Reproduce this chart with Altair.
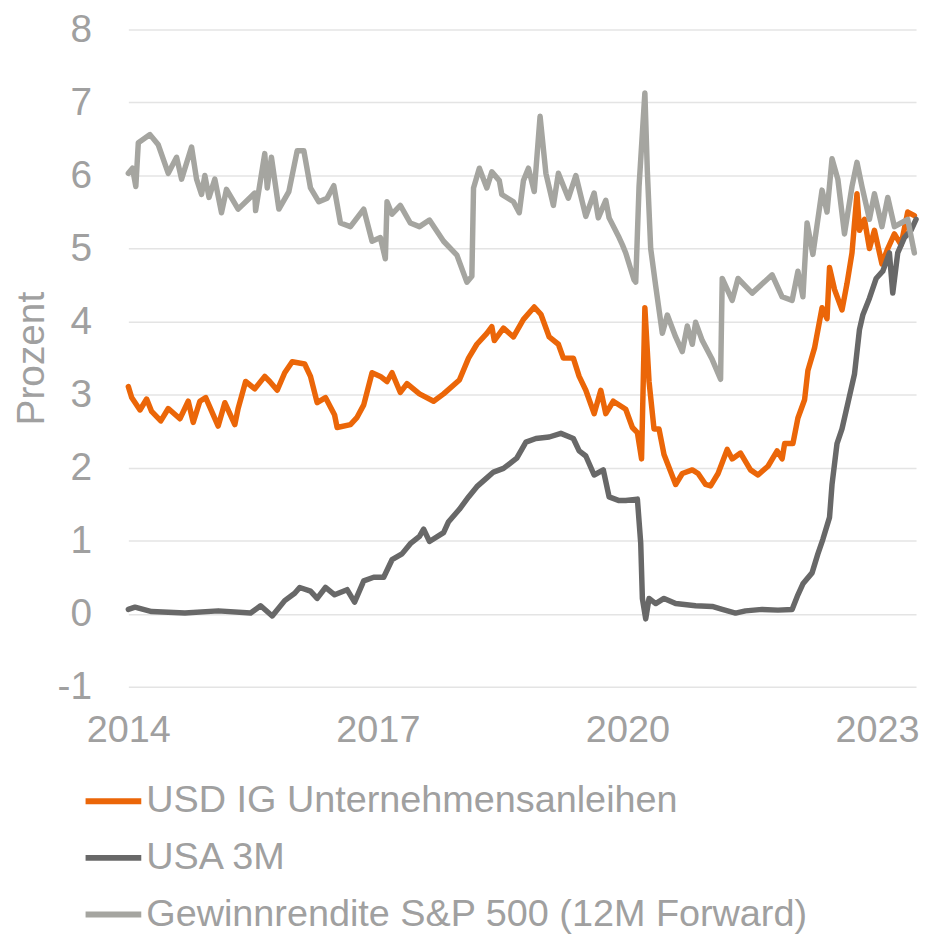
import altair as alt
import pandas as pd

# Series names (legend order)
S_IG = "USD IG Unternehmensanleihen"
S_3M = "USA 3M"
S_EY = "Gewinnrendite S&P 500 (12M Forward)"

ig_years = [2014.00, 2014.04, 2014.14, 2014.22, 2014.28, 2014.39, 2014.48, 2014.62, 2014.72, 2014.78,
            2014.86, 2014.93, 2015.08, 2015.16, 2015.28, 2015.32, 2015.41, 2015.52, 2015.64, 2015.70,
            2015.79, 2015.88, 2015.97, 2016.12, 2016.19, 2016.27, 2016.37, 2016.48, 2016.51, 2016.67,
            2016.75, 2016.83, 2016.93, 2017.03, 2017.11, 2017.17, 2017.27, 2017.35, 2017.50, 2017.67,
            2017.79, 2017.98, 2018.09, 2018.19, 2018.31, 2018.37, 2018.40, 2018.51, 2018.63, 2018.75,
            2018.88, 2018.96, 2019.06, 2019.17, 2019.23, 2019.35, 2019.42, 2019.50, 2019.60, 2019.68,
            2019.74, 2019.83, 2019.98, 2020.06, 2020.12, 2020.17, 2020.21, 2020.26, 2020.32, 2020.38,
            2020.44, 2020.58, 2020.66, 2020.78, 2020.85, 2020.94, 2021.00, 2021.09, 2021.20, 2021.26,
            2021.36, 2021.48, 2021.57, 2021.69, 2021.80, 2021.86, 2021.89, 2021.99, 2022.05, 2022.13,
            2022.17, 2022.25, 2022.34, 2022.40, 2022.43, 2022.49, 2022.58, 2022.64, 2022.70, 2022.76,
            2022.79, 2022.85, 2022.91, 2022.97, 2023.06, 2023.13, 2023.21, 2023.29, 2023.37, 2023.45]
ig_vals = [3.11, 2.96, 2.79, 2.94, 2.77, 2.64, 2.81, 2.67, 2.91, 2.62,
           2.91, 2.96, 2.57, 2.89, 2.59, 2.81, 3.18, 3.08, 3.25, 3.18,
           3.06, 3.30, 3.45, 3.42, 3.25, 2.89, 2.96, 2.72, 2.55, 2.59,
           2.69, 2.86, 3.30, 3.25, 3.18, 3.30, 3.03, 3.15, 3.01, 2.91,
           3.01, 3.20, 3.50, 3.69, 3.84, 3.93, 3.74, 3.91, 3.79, 4.03,
           4.20, 4.10, 3.79, 3.69, 3.50, 3.50, 3.25, 3.06, 2.74, 3.06,
           2.74, 2.91, 2.80, 2.55, 2.48, 2.12, 4.19, 3.18, 2.53, 2.53,
           2.18, 1.77, 1.92, 1.97, 1.92, 1.77, 1.75, 1.92, 2.25, 2.12,
           2.20, 1.97, 1.90, 2.02, 2.23, 2.12, 2.33, 2.33, 2.68, 2.93,
           3.33, 3.64, 4.19, 4.04, 4.74, 4.44, 4.16, 4.52, 4.94, 5.75,
           5.25, 5.40, 5.00, 5.25, 4.79, 5.00, 5.20, 5.05, 5.50, 5.45]

m3_years = [2014.00, 2014.08, 2014.28, 2014.68, 2015.08, 2015.47, 2015.59, 2015.73, 2015.88, 2016.00,
            2016.06, 2016.19, 2016.27, 2016.37, 2016.48, 2016.63, 2016.72, 2016.83, 2016.95, 2017.07,
            2017.17, 2017.29, 2017.39, 2017.50, 2017.55, 2017.62, 2017.79, 2017.85, 2017.98, 2018.09,
            2018.19, 2018.31, 2018.39, 2018.51, 2018.67, 2018.78, 2018.90, 2019.06, 2019.20, 2019.35,
            2019.42, 2019.50, 2019.60, 2019.71, 2019.78, 2019.90, 2019.98, 2020.12, 2020.16, 2020.18,
            2020.22, 2020.26, 2020.34, 2020.44, 2020.58, 2020.82, 2021.02, 2021.14, 2021.30, 2021.42,
            2021.62, 2021.81, 2021.98, 2022.05, 2022.11, 2022.22, 2022.29, 2022.35, 2022.43, 2022.46,
            2022.52, 2022.58, 2022.65, 2022.73, 2022.79, 2022.83, 2022.91, 2022.99, 2023.07, 2023.15,
            2023.19, 2023.25, 2023.33, 2023.41, 2023.47]
m3_vals = [0.06, 0.09, 0.03, 0.01, 0.04, 0.01, 0.11, -0.03, 0.18, 0.28,
           0.36, 0.31, 0.21, 0.36, 0.26, 0.33, 0.16, 0.45, 0.50, 0.50,
           0.74, 0.82, 0.96, 1.06, 1.16, 0.99, 1.11, 1.26, 1.43, 1.60,
           1.74, 1.86, 1.94, 1.99, 2.13, 2.35, 2.40, 2.42, 2.47, 2.40,
           2.23, 2.16, 1.90, 1.97, 1.60, 1.55, 1.55, 1.57, 0.97, 0.21,
           -0.07, 0.21, 0.14, 0.21, 0.14, 0.11, 0.10, 0.06, 0.01, 0.04,
           0.06, 0.05, 0.06, 0.26, 0.41, 0.56, 0.82, 1.02, 1.32, 1.77,
           2.33, 2.53, 2.88, 3.28, 3.89, 4.09, 4.32, 4.59, 4.69, 4.94,
           4.39, 4.94, 5.15, 5.25, 5.40]

ey_years = [2014.00, 2014.05, 2014.09, 2014.12, 2014.26, 2014.36, 2014.48, 2014.58, 2014.64, 2014.76,
            2014.82, 2014.88, 2014.92, 2014.97, 2015.04, 2015.12, 2015.18, 2015.32, 2015.52, 2015.53,
            2015.64, 2015.67, 2015.72, 2015.81, 2015.93, 2016.03, 2016.11, 2016.19, 2016.29, 2016.39,
            2016.47, 2016.55, 2016.67, 2016.83, 2016.93, 2017.03, 2017.09, 2017.11, 2017.17, 2017.27,
            2017.39, 2017.50, 2017.62, 2017.79, 2017.95, 2018.07, 2018.13, 2018.15, 2018.22, 2018.31,
            2018.37, 2018.46, 2018.49, 2018.63, 2018.70, 2018.75, 2018.81, 2018.88, 2018.95, 2019.02,
            2019.11, 2019.17, 2019.29, 2019.38, 2019.50, 2019.60, 2019.65, 2019.74, 2019.78, 2019.90,
            2019.94, 2019.98, 2020.08, 2020.10, 2020.14, 2020.21, 2020.24, 2020.28, 2020.34, 2020.42,
            2020.48, 2020.58, 2020.66, 2020.72, 2020.78, 2020.82, 2020.90, 2021.02, 2021.12, 2021.14,
            2021.26, 2021.33, 2021.50, 2021.74, 2021.86, 2021.98, 2022.05, 2022.11, 2022.16, 2022.23,
            2022.34, 2022.40, 2022.46, 2022.53, 2022.61, 2022.70, 2022.76, 2022.82, 2022.91, 2022.97,
            2023.06, 2023.13, 2023.21, 2023.29, 2023.37, 2023.45]
ey_vals = [6.03, 6.10, 5.85, 6.45, 6.56, 6.42, 6.03, 6.25, 5.95, 6.39,
           5.95, 5.74, 6.00, 5.70, 5.95, 5.49, 5.81, 5.54, 5.76, 5.52,
           6.30, 5.83, 6.25, 5.54, 5.78, 6.34, 6.34, 5.83, 5.64, 5.69,
           5.86, 5.35, 5.30, 5.54, 5.10, 5.15, 4.86, 5.64, 5.47, 5.59,
           5.35, 5.30, 5.39, 5.10, 4.91, 4.54, 4.62, 5.83, 6.10, 5.83,
           6.05, 5.93, 5.74, 5.64, 5.49, 5.93, 6.10, 5.78, 6.81, 6.03,
           5.59, 6.03, 5.69, 6.00, 5.44, 5.76, 5.42, 5.66, 5.42, 5.15,
           5.05, 4.94, 4.57, 4.54, 5.85, 7.13, 6.05, 5.00, 4.49, 3.84,
           4.09, 3.79, 3.59, 3.94, 3.69, 3.99, 3.74, 3.48, 3.21, 4.59,
           4.29, 4.59, 4.39, 4.64, 4.34, 4.29, 4.69, 4.34, 5.35, 4.92,
           5.80, 5.50, 6.23, 5.95, 5.20, 5.85, 6.18, 5.85, 5.40, 5.75,
           5.30, 5.70, 5.30, 5.35, 5.40, 4.94]

series_names = [S_IG, S_3M, S_EY]
series_colors = ["#EB6608", "#686868", "#A5A5A0"]
x_ticks = [2014, 2017, 2020, 2023]
y_ticks = [-1, 0, 1, 2, 3, 4, 5, 6, 7, 8]

frames = []
for name, ys, vs in [(S_IG, ig_years, ig_vals), (S_3M, m3_years, m3_vals), (S_EY, ey_years, ey_vals)]:
    frames.append(pd.DataFrame({"year": ys, "value": vs, "series": name,
                                "order": series_names.index(name)}))
df = pd.concat(frames, ignore_index=True)

FONT = "Liberation Sans"
TXT = "#A0A0A0"

chart = alt.Chart(df).mark_line(strokeWidth=5.5, strokeJoin="round", strokeCap="round").encode(
    x=alt.X("year:Q",
            scale=alt.Scale(domain=[2014, 2023.47], nice=False, zero=False),
            axis=alt.Axis(values=x_ticks, format="d", title=None, grid=False, domain=False,
                          ticks=False, labelFontSize=38, labelColor=TXT, labelFont=FONT,
                          labelPadding=25, labelFlush=False)),
    y=alt.Y("value:Q",
            scale=alt.Scale(domain=[-1, 8], nice=False, zero=False),
            axis=alt.Axis(values=y_ticks, title="Prozent", grid=True, gridColor="#E4E4E4",
                          gridWidth=1.5, domain=False, ticks=False, labelFontSize=39,
                          labelColor=TXT, labelFont=FONT, labelPadding=37,
                          labelExpr="replace(datum.label, '\u2212', '-')",
                          titleFontSize=39, titleColor=TXT, titleFont=FONT,
                          titleFontWeight="normal", titlePadding=6)),
    color=alt.Color("series:N",
                    scale=alt.Scale(domain=series_names, range=series_colors),
                    legend=alt.Legend(title=None, orient="none", legendX=-46, legendY=745,
                                      direction="vertical", symbolType="stroke",
                                      symbolSize=3136, symbolStrokeWidth=6,
                                      labelFontSize=38, labelColor=TXT, labelFont=FONT,
                                      labelOffset=2, rowPadding=7, padding=0,
                                      labelLimit=900)),
    order=alt.Order("order:Q"),
    detail="series:N",
).properties(
    width=792, height=661,
    autosize=alt.AutoSizeParams(type="none"),
    padding={"left": 121, "top": 19, "right": 6, "bottom": 247},
).configure_view(strokeWidth=0)

chart.save("out.html", embed_options={"renderer": "svg", "actions": False})
